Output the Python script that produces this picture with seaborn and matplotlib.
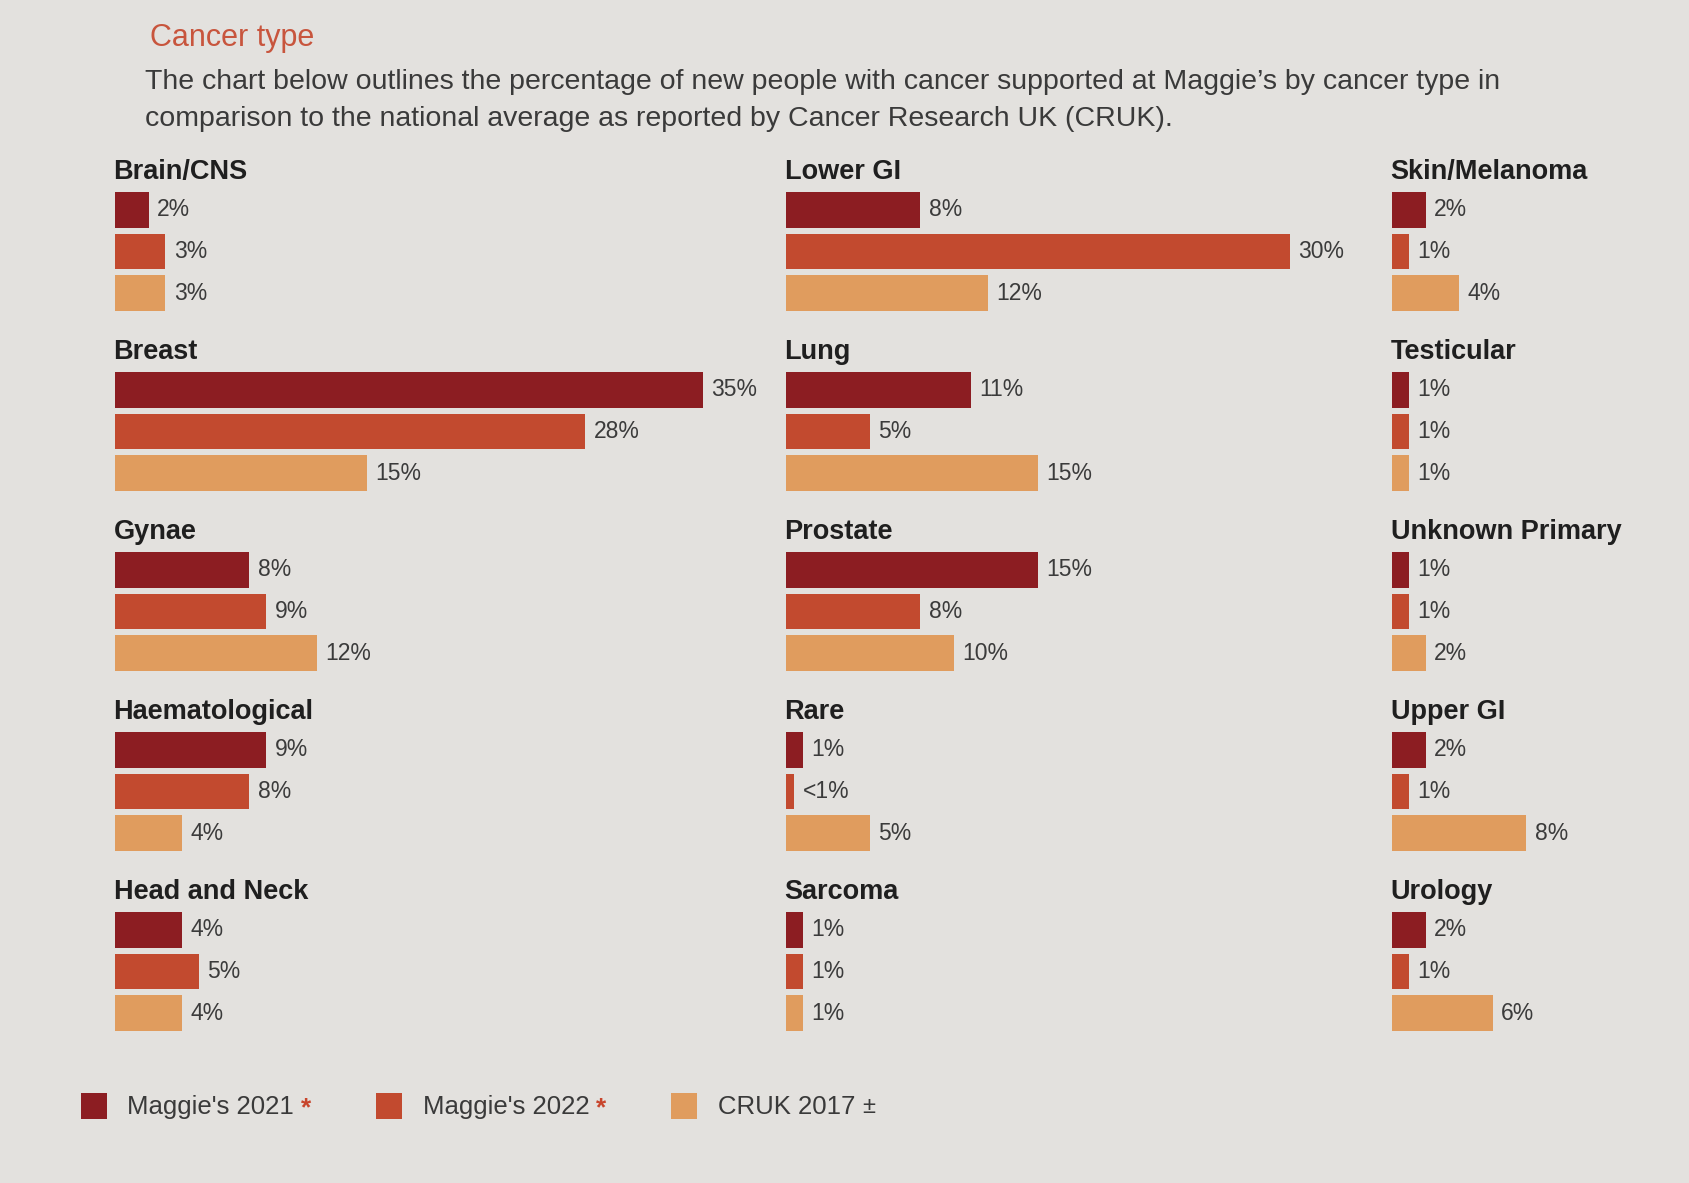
import matplotlib
matplotlib.use("Agg")
import matplotlib.pyplot as plt
import seaborn as sns
import pandas as pd
from matplotlib.patches import Patch
from matplotlib.transforms import IdentityTransform

# ---------------- data ----------------
categories = ["Brain/CNS", "Breast", "Gynae", "Haematological", "Head and Neck",
              "Lower GI", "Lung", "Prostate", "Rare", "Sarcoma",
              "Skin/Melanoma", "Testicular", "Unknown Primary", "Upper GI", "Urology"]
series = ["Maggie's 2021", "Maggie's 2022", "CRUK 2017"]
maggies_2021 = [2, 35, 8, 9, 4, 8, 11, 15, 1, 1, 2, 1, 1, 2, 2]
maggies_2022 = [3, 28, 9, 8, 5, 30, 5, 8, 0.5, 1, 1, 1, 1, 1, 1]   # 0.5 = "<1%"
cruk_2017 = [3, 15, 12, 4, 4, 12, 15, 10, 5, 1, 4, 1, 2, 8, 6]
legend_marks = ["*", "*", "\u00b1"]

rows = []
for i, cat in enumerate(categories):
    for s, vals in zip(series, [maggies_2021, maggies_2022, cruk_2017]):
        v = vals[i]
        rows.append({"category": cat, "series": s, "value": v,
                     "label": "<1%" if v < 1 else f"{v:g}%"})
df = pd.DataFrame(rows)

# ---------------- style ----------------
W, H = 1689, 1183
BG = "#e3e1de"
palette = {"Maggie's 2021": "#8c1d22", "Maggie's 2022": "#c24a2f", "CRUK 2017": "#e09c5e"}
mark_colors = ["#c8452c", "#c8452c", "#3a3a3a"]
sns.set_theme(style="white")
plt.rcParams["font.family"] = ["Liberation Sans", "DejaVu Sans"]

fig = plt.figure(figsize=(W / 100, H / 100), dpi=100)
fig.patch.set_facecolor(BG)

PX_PER_PCT = 16.8
col_left = [115, 786, 1392]
col_width = [640, 580, 290]
row_title_y = [172, 352, 532, 712, 892]
AX_H = 125

for idx, cat in enumerate(categories):
    c, r = divmod(idx, 5)
    left, width = col_left[c], col_width[c]
    top = row_title_y[r] + 17
    ax = fig.add_axes([left / W, 1 - (top + AX_H) / H, width / W, AX_H / H])
    sub = df[df["category"] == cat]
    sns.barplot(data=sub, x="value", y="series", hue="series", order=series,
                hue_order=series, palette=palette, orient="h", width=0.86,
                saturation=1, legend=False, linewidth=0, edgecolor="none", ax=ax)
    ax.set_xlim(0, width / PX_PER_PCT)
    ax.axis("off")
    ax.set_facecolor("none")
    for j, (v, lab) in enumerate(zip(sub["value"], sub["label"])):
        ax.annotate(lab, xy=(v, j), xytext=(6, 0), textcoords="offset points",
                    va="center", ha="left", fontsize=16.5, color="#3b3b3b")
    ax.annotate(cat, xy=(0, 1), xycoords="axes fraction", xytext=(-1, 12.5),
                textcoords="offset points", va="center", ha="left",
                fontsize=19.5, fontweight="bold", color="#1f1f1f")

# ---------------- headings ----------------
fig.text(150 / W, 1 - 38 / H, "Cancer type", fontsize=22, color="#c8553d",
         va="center", ha="left")
fig.text(145 / W, 1 - 82 / H,
         "The chart below outlines the percentage of new people with cancer supported "
         "at Maggie\u2019s by cancer type in",
         fontsize=20.5, color="#3a3a3a", va="center", ha="left")
fig.text(145 / W, 1 - 119 / H,
         "comparison to the national average as reported by Cancer Research UK (CRUK).",
         fontsize=20.5, color="#3a3a3a", va="center", ha="left")

# ---------------- legend ----------------
handles = [Patch(facecolor=palette[s], edgecolor="none") for s in series]
leg = fig.legend(handles, series, loc="center left",
                 bbox_to_anchor=(58 / W, 1 - 1106 / H), ncol=3, frameon=False,
                 fontsize=18.5, handlelength=1.0, handleheight=1.2,
                 handletextpad=0.8, columnspacing=3.2)
for t in leg.get_texts():
    t.set_color("#3a3a3a")
fig.canvas.draw()
for t, m, mc in zip(leg.get_texts(), legend_marks, mark_colors):
    bb = t.get_window_extent()
    fig.text(bb.x1 + 7, bb.y1 - 1, m, transform=IdentityTransform(),
             fontsize=19 if m == "*" else 17, color=mc, va="top", ha="left",
             fontweight="bold" if m == "*" else "normal")

fig.savefig("out.png", dpi=100, facecolor=BG)
